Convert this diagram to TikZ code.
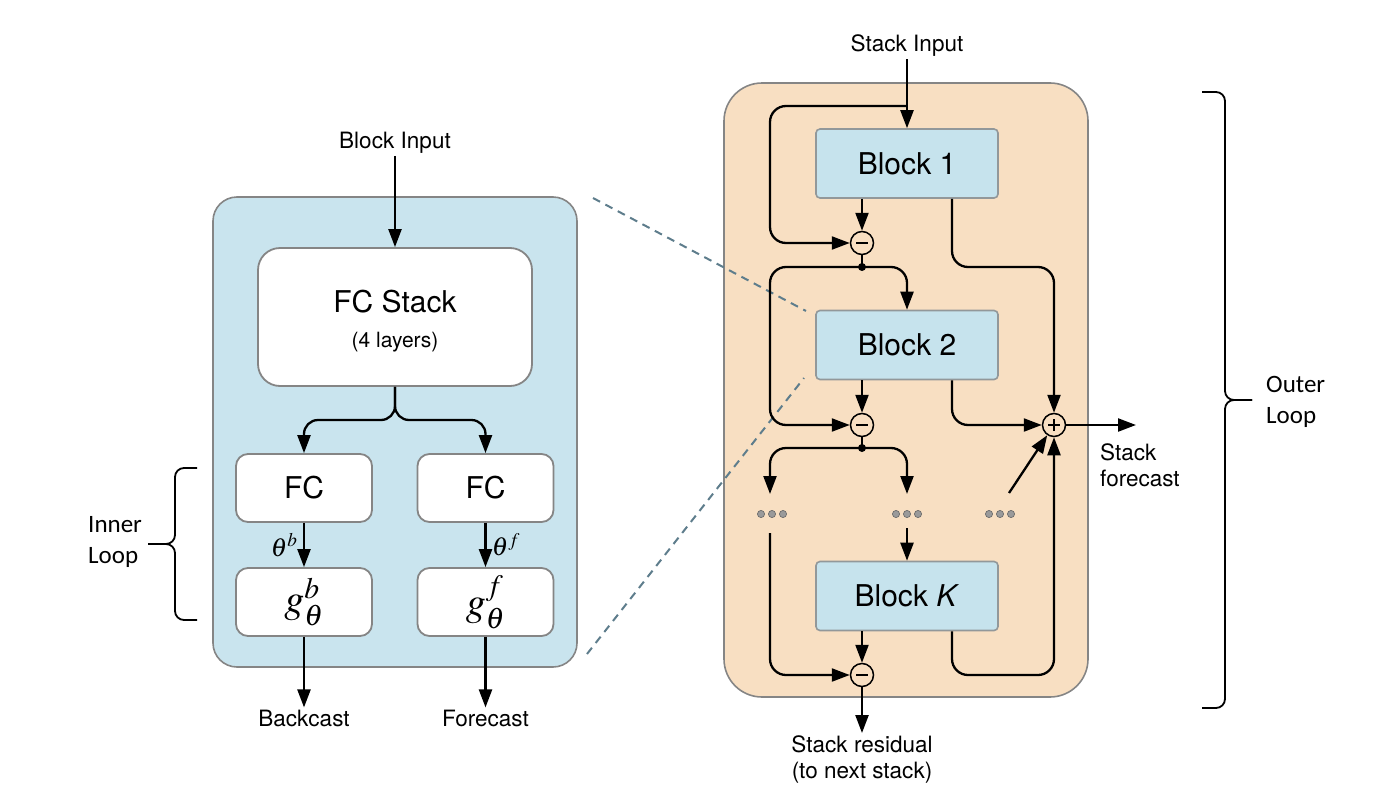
\documentclass[tikz,border=0pt]{standalone}
\usepackage{mathptmx}
\usepackage{fontspec}
\setmainfont{TeX Gyre Heros}
\newfontfamily\calfont{Carlito}
\usetikzlibrary{arrows.meta,calc}
\definecolor{panelblue}{HTML}{C9E4EE}
\definecolor{blockblue}{HTML}{C6E3ED}
\definecolor{panelorange}{HTML}{F8DFC2}
\definecolor{bordergray}{HTML}{858585}
\definecolor{dashcol}{HTML}{5E7D8C}
\definecolor{dotgray}{HTML}{9A9A9A}
\begin{document}
\begin{tikzpicture}[x=1pt,y=-1pt,
  lbl/.style={font=\fontsize{22.5}{28}\selectfont, align=center, inner sep=2pt},
  loopl/.style={font=\calfont\fontsize{25}{31}\selectfont, align=left, inner sep=0pt, anchor=west},
  bigtxt/.style={font=\fontsize{30}{36}\selectfont, inner sep=0pt},
  panel/.style={draw=bordergray, line width=1.6pt},
  wbox/.style={draw=bordergray, fill=white, line width=1.8pt, rounded corners=12pt, minimum width=136pt, minimum height=68pt, inner sep=0pt, font=\fontsize{30}{36}\selectfont},
  blockbox/.style={draw=bordergray!80!blockblue, fill=blockblue, line width=1.6pt, rounded corners=4pt, minimum width=182pt, minimum height=69pt, inner sep=0pt, font=\fontsize{30}{36}\selectfont},
  ln/.style={line width=2.3pt},
  arr/.style={line width=2.3pt, -{Triangle[length=18pt,width=13pt]}},
  rnd/.style={rounded corners=16pt},
  opc/.style={circle, draw, line width=1.5pt, fill=panelorange, minimum size=23pt, inner sep=0pt},
  minusc/.style={opc, path picture={\draw[line width=1.4pt] ([xshift=-6pt]path picture bounding box.center) -- ([xshift=6pt]path picture bounding box.center);}},
  plusc/.style={opc, path picture={\draw[line width=1.4pt] ([xshift=-6pt]path picture bounding box.center) -- ([xshift=6pt]path picture bounding box.center); \draw[line width=1.4pt] ([yshift=-6pt]path picture bounding box.center) -- ([yshift=6pt]path picture bounding box.center);}},
  jdot/.style={circle, fill=black, minimum size=8pt, inner sep=0pt},
  brc/.style={line width=1.8pt, rounded corners=9pt},
  dashl/.style={draw=dashcol, line width=2pt, dash pattern=on 8pt off 6pt}
]
\useasboundingbox (0,0) rectangle (1400,795);

% ---------- panels ----------
\node[panel, fill=panelblue, rounded corners=24pt, minimum width=364pt, minimum height=470pt] (lp) at (395,432) {};
\node[panel, fill=panelorange, rounded corners=38pt, minimum width=364pt, minimum height=614pt] (rp) at (906,390) {};

% ---------- dashed zoom lines ----------
\coordinate (dA1) at (593,198);
\coordinate (dA2) at (806,311);
\coordinate (dB1) at (587,654);
\coordinate (dB2) at (804,378);
\draw[dashl] (dA1) -- (dA2);
\draw[dashl] (dB1) -- (dB2);

% ---------- left panel ----------
\node[lbl] (bi) at (395,143) {Block Input};
\node[wbox, minimum width=274pt, minimum height=138pt, rounded corners=22pt] (fcs) at (395,317) {};
\node[bigtxt] (fcst) at (395,302) {FC Stack};
\node[font=\fontsize{21}{26}\selectfont, inner sep=0pt] (fcsub) at (395,342) {(4 layers)};
\node[wbox] (fcl) at (304,488) {FC};
\node[wbox] (fcr) at (485.5,488) {FC};
\node[wbox, font=\fontsize{40}{46}\selectfont] (gl) at (304,602) {$g^{b}_{\theta}$};
\node[wbox, font=\fontsize{40}{46}\selectfont] (gr) at (485.5,602) {$g^{f}_{\theta}$};
\node[lbl] (bc) at (304,718) {Backcast};
\node[lbl] (fc) at (485.5,718) {Forecast};

\draw[arr] (bi.south) -- (fcs.north);
\draw[arr, rounded corners=14pt] (fcs.south) -- (395,420) -| (fcl.north);
\draw[arr, rounded corners=14pt] (fcs.south) -- (395,420) -| (fcr.north);
\draw[arr] (fcl.south) -- node[left, font=\fontsize{26}{30}\selectfont, xshift=-2pt] (thb) {$\theta^{b}$} (gl.north);
\draw[arr] (fcr.south) -- node[right, font=\fontsize{26}{30}\selectfont, xshift=2pt] (thf) {$\theta^{f}$} (gr.north);
\draw[arr] (gl.south) -- (bc.north);
\draw[arr] (gr.south) -- (fc.north);

% inner loop brace
\coordinate (ibT) at (197,468);
\coordinate (ibM) at (148,544);
\coordinate (ibB) at (197,620);
\draw[brc] (ibT) -- (175,468) -- (175,544) -- (ibM);
\draw[brc] (ibM) -- (175,544) -- (175,620) -- (ibB);
\node[loopl] (il) at (88,542) {Inner\\Loop};

% ---------- right panel ----------
\node[lbl] (si) at (907,46) {Stack Input};
\node[blockbox] (b1) at (907,163.5) {Block 1};
\node[blockbox] (b2) at (907,345) {Block 2};
\node[blockbox] (bk) at (907,596) {Block \textit{K}};
\node[minusc] (m1) at (862,243) {};
\node[minusc] (m2) at (862,425) {};
\node[minusc] (m3) at (862,675) {};
\node[plusc] (pl) at (1054,425) {};
\node[jdot] (j1) at (862,267) {};
\node[jdot] (j2) at (862,448) {};
\node[lbl, align=left, anchor=west] (sf) at (1098,465) {Stack\\[-2pt]forecast};
\node[lbl] (sr) at (862,759) {Stack residual\\[-2pt](to next stack)};
\coordinate (sfend) at (1136,425);

% ellipses
\coordinate (e1) at (772,514);
\coordinate (e2) at (907,514);
\coordinate (e3) at (1000,514);
\foreach \c in {e1,e2,e3}{
  \foreach \dx in {-11,0,11}{
    \filldraw[fill=dotgray, draw=gray!80!black, line width=0.6pt] ($(\c)+(\dx,0)$) circle (3.6pt);
  }
}

% connectors
\coordinate (br0) at (907,106);
\draw[arr] (si.south) -- (b1.north);
\draw[arr, rnd] (br0) -- (770,106) -- (770,243) -- (m1.west);
\draw[arr] (m1 |- b1.south) -- (m1.north);
\draw[ln] (m1.south) -- (j1.center);
\draw[arr, rnd] (j1.center) -- (907,267) -- (b2.north);
\draw[arr, rnd] (j1.center) -- (770,267) -- (770,425) -- (m2.west);
\draw[arr, rnd] ($(b1.south)+(45,0)$) -- (952,267) -- (1054,267) -- (pl.north);

\draw[arr] (m2 |- b2.south) -- (m2.north);
\draw[arr, rnd] ($(b2.south)+(45,0)$) -- (952,425) -- (pl.west);
\draw[arr] (pl.east) -- (sfend);
\draw[ln] (m2.south) -- (j2.center);
\draw[arr, rnd] (j2.center) -- (770,448) -- (770,494);
\draw[arr, rnd] (j2.center) -- (907,448) -- (907,494);

\coordinate (dg) at (1009,493);
\draw[arr] (dg) -- (pl);
\coordinate (e2b) at (907,528);
\draw[arr] (e2b) -- (bk.north);
\draw[arr, rnd] (770,533) -- (770,675) -- (m3.west);
\draw[arr] (m3 |- bk.south) -- (m3.north);
\draw[arr, rnd] ($(bk.south)+(45,0)$) -- (952,675) -- (1054,675) -- (pl.south);
\draw[arr] (m3.south) -- (sr.north);

% outer loop brace
\coordinate (obT) at (1202,92);
\coordinate (obM) at (1252,400);
\coordinate (obB) at (1202,708);
\draw[brc] (obT) -- (1225,92) -- (1225,400) -- (obM);
\draw[brc] (obM) -- (1225,400) -- (1225,708) -- (obB);
\node[loopl] (ol) at (1266,402) {Outer\\Loop};
\end{tikzpicture}
\end{document}
